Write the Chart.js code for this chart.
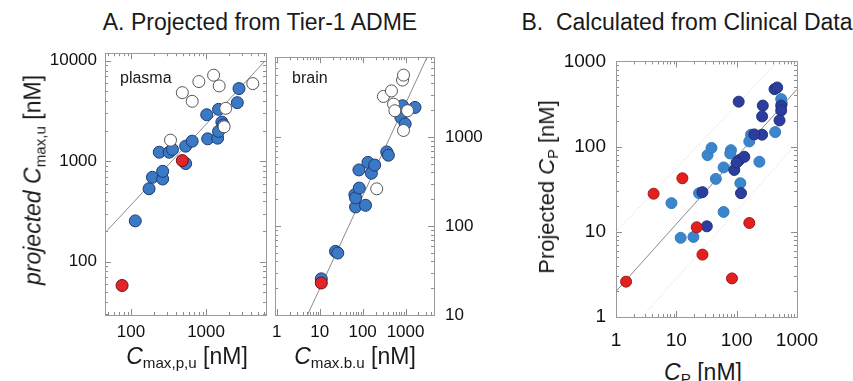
<!DOCTYPE html>
<html>
<head>
<meta charset="utf-8">
<script src="https://cdn.jsdelivr.net/npm/chart.js@4.4.0/dist/chart.umd.min.js"></script>
<style>
body { margin: 0; background: #fff; font-family: "Liberation Sans", Arial, sans-serif; color: #1a1a1a; }
#wrap { position: relative; width: 853px; height: 381px; overflow: hidden; background: #fff; }
canvas { position: absolute; }
.t { position: absolute; white-space: nowrap; line-height: 1; }
.t sub { font-size: 66%; vertical-align: -0.3em; line-height: 0; }
.rot { transform: translate(-50%, -50%) rotate(-90deg); }
.ctr { transform: translate(-50%, -50%); }
</style>
</head>
<body>
<div id="wrap">
  <canvas id="plasma" width="240" height="315" style="left:40px;top:35px"></canvas>
  <canvas id="brain" width="230" height="314" style="left:262px;top:36px"></canvas>
  <canvas id="clin" width="300" height="310" style="left:546px;top:40px"></canvas>

  <div class="t ctr" style="left:260px;top:22px;font-size:23px">A. Projected from Tier-1 ADME</div>
  <div class="t ctr" style="left:687px;top:22px;font-size:23px">B.&nbsp; Calculated from Clinical Data</div>

  <div class="t rot" style="left:33px;top:180px;font-size:23px"><i>projected C</i><sub>max,u</sub> [nM]</div>
  <div class="t ctr" style="left:187px;top:356px;font-size:23px"><i>C</i><sub>max,p,u</sub> [nM]</div>
  <div class="t ctr" style="left:355px;top:356px;font-size:23px"><i>C</i><sub>max.b.u</sub> [nM]</div>
  <div class="t" style="left:120px;top:70px;font-size:16px">plasma</div>
  <div class="t" style="left:292px;top:70px;font-size:16px">brain</div>

  <div class="t rot" style="left:547px;top:187px;font-size:22px">Projected <i>C</i><sub>P</sub> [nM]</div>
  <div class="t ctr" style="left:703px;top:372px;font-size:23px"><i>C</i><sub>P</sub> [nM]</div>
</div>

<script>
"use strict"

// panel A, plasma: [Cmax,p,u, projected Cmax,u]
const plasmaBlue = [[114,255],[174,533],[193,692],[264,666],[264,794],[238,1230],[323,1230],[357,1308],
    [535,948],[535,1413],[654,1585],[1052,1671],[1021,2905],[1426,1698],[1469,1982],[1625,2455],
    [1469,3286],[2612,3831],[2750,5289],[1700,2300]];
const plasmaRed = [[76,58],[483,1016]];
const plasmaWhite = [[336,1622],[483,4820],[654,3952],[802,6210],[1262,7190],[1496,5620],[1832,3365],[1742,2203],[4200,5930]];
const plasmaFit = [[48,204],[5970,9770]];

// panel A, brain
const brainBlue = [[10.9,25.5],[23.3,51.9],[26.4,49.7],[68.5,164],[66,225],[68.5,207],[83.5,267],[117,171],
    [82,427],[133,519],[160,392],[191,484],[365,681],[398,625],[851,2249],[777,1667],[980,1407],[1660,2155]];
const brainRed = [[10.9,22.9]];
const brainWhite = [[213,262],[305,2860],[470,3300],[525,2345],[563,1977],[851,4375],[897,4970],[1114,1977],[897,1186]];
const brainFit = [[5.2,10],[3170,7900]];

// panel B: [CP, projected CP]
const clinLight = [[8.3,21.7],[11.8,8.5],[19.2,8.7],[23.8,28.4],[45.2,41.8],[60.7,57],[32.9,79.4],[38.3,96.6],
    [80.4,90.8],[78.2,83],[115,37.2],[60.7,17.1],[238,66.4],[173,138],[162,115],[435,148],[547,361],[560,320]];
const clinDark = [[27.1,29.2],[32,11.6],[110,69.5],[91.2,53.2],[134,75.9],[100,65],[118,28.4],[108,337],
    [424,472],[470,494],[547,303],[547,265],[271,303],[264,226],[513,203],[264,138],[196,139]];
const clinRed = [[1.47,2.6],[4.2,28],[12.6,42.5],[21.8,11.3],[27.1,5.4],[83.6,2.84],[162,12.7]];
const clinFit = [[1,2],[1000,470]];
const clinUpper = [[1,10],[480,1000]];
const clinLower = [[2.7,1],[1000,110]];

const FONT = '"Liberation Sans", Arial, sans-serif';

function pts(arr) {
    return arr.map(p => ({x: p[0], y: p[1]}));
}

function decades(min, max) {
    const out = [];
    for (let e = Math.floor(Math.log10(min)); e <= Math.ceil(Math.log10(max)); e++) {
        const v = Math.pow(10, e);
        if (v >= min * 0.999 && v <= max * 1.001) out.push(v);
    }
    return out;
}

function minorTicks(min, max) {
    const out = [];
    for (let e = Math.floor(Math.log10(min)); e <= Math.ceil(Math.log10(max)); e++) {
        for (let k = 1; k < 10; k++) {
            const v = k * Math.pow(10, e);
            if (v >= min * 0.999 && v <= max * 1.001) out.push({v: v, major: k === 1});
        }
    }
    return out;
}

// box and inward ticks on all four sides
const frame = {
    id: 'frame',
    beforeDatasetsDraw(chart) {
        const ctx = chart.ctx;
        const a = chart.chartArea;
        const sx = chart.scales.x, sy = chart.scales.y;
        ctx.save();
        ctx.strokeStyle = '#8c8c8c';
        ctx.lineWidth = 1;
        ctx.beginPath();
        minorTicks(sx.min, sx.max).forEach(t => {
            const px = Math.round(sx.getPixelForValue(t.v)) + 0.5;
            const len = t.major ? 6 : 3;
            ctx.moveTo(px, a.bottom); ctx.lineTo(px, a.bottom - len);
            ctx.moveTo(px, a.top); ctx.lineTo(px, a.top + len);
        });
        minorTicks(sy.min, sy.max).forEach(t => {
            const py = Math.round(sy.getPixelForValue(t.v)) + 0.5;
            const len = t.major ? 6 : 3;
            ctx.moveTo(a.left, py); ctx.lineTo(a.left + len, py);
            ctx.moveTo(a.right, py); ctx.lineTo(a.right - len, py);
        });
        ctx.stroke();
        ctx.strokeStyle = '#9a9a9a';
        ctx.strokeRect(Math.round(a.left) + 0.5, Math.round(a.top) + 0.5,
            Math.round(a.right - a.left), Math.round(a.bottom - a.top));
        ctx.restore();
    }
};

function logAxis(pos, min, max, size, fontSize, pad) {
    return {
        type: 'logarithmic',
        position: pos,
        min: min,
        max: max,
        grid: {display: false, drawTicks: false},
        border: {display: false},
        afterBuildTicks: s => { s.ticks = decades(min, max).map(v => ({value: v})); },
        afterFit: s => {
            if (pos === 'bottom') s.height = size; else s.width = size;
        },
        ticks: {
            autoSkip: false,
            maxRotation: 0,
            padding: pad,
            color: '#111',
            font: {family: FONT, size: fontSize},
            callback: v => String(Math.round(v))
        }
    };
}

function dots(data, fill, border, r, order) {
    return {
        data: pts(data),
        backgroundColor: fill,
        borderColor: border,
        borderWidth: 1,
        pointRadius: r,
        order: order
    };
}

function refLine(data, color, dash) {
    return {
        data: pts(data),
        showLine: true,
        borderColor: color,
        borderWidth: 1,
        borderDash: dash,
        pointRadius: 0,
        order: 9
    };
}

function makeChart(id, datasets, xAxis, yAxis, padding) {
    return new Chart(document.getElementById(id), {
        type: 'scatter',
        data: {datasets: datasets},
        options: {
            responsive: false,
            animation: false,
            devicePixelRatio: 1,
            layout: {padding: padding},
            plugins: {legend: {display: false}, tooltip: {enabled: false}},
            scales: {x: xAxis, y: yAxis}
        },
        plugins: [frame]
    });
}

const BLUE = '#3b78c6', BLUE_EDGE = '#1e3d6e', RED = '#e3242b', RED_EDGE = '#6b1010';

makeChart('plasma', [
    dots(plasmaWhite, '#ffffff', '#555555', 6, 1),
    dots(plasmaRed, RED, RED_EDGE, 6, 2),
    dots(plasmaBlue, BLUE, BLUE_EDGE, 6, 3),
    refLine(plasmaFit, '#8a8a8a', [])
], logAxis('bottom', 45, 6300, 35, 17, 7), logAxis('left', 29.5, 11900, 65, 17, 8),
   {left: 0, top: 18, right: 14, bottom: 0});

makeChart('brain', [
    dots(brainWhite, '#ffffff', '#555555', 6, 1),
    dots(brainRed, RED, RED_EDGE, 6, 2),
    dots(brainBlue, BLUE, BLUE_EDGE, 6, 3),
    refLine(brainFit, '#8a8a8a', [])
], logAxis('bottom', 0.91, 4600, 35, 17, 7), logAxis('right', 10, 7900, 58, 17, 11),
   {left: 13, top: 18, right: 0, bottom: 0});

makeChart('clin', [
    dots(clinRed, '#e4201f', '#9a1a1a', 5.5, 1),
    dots(clinDark, '#2b3d9e', '#23307a', 5.5, 2),
    dots(clinLight, '#3a85cb', '#3a7cbf', 5.5, 3),
    refLine(clinFit, '#8a8a8a', []),
    refLine(clinUpper, '#cfcfcf', [1, 2]),
    refLine(clinLower, '#cfcfcf', [1, 2])
], logAxis('bottom', 1, 1000, 33, 19, 12), logAxis('left', 1, 1000, 70, 19, 10),
   {left: 0, top: 18, right: 49, bottom: 0});
</script>
</body>
</html>
